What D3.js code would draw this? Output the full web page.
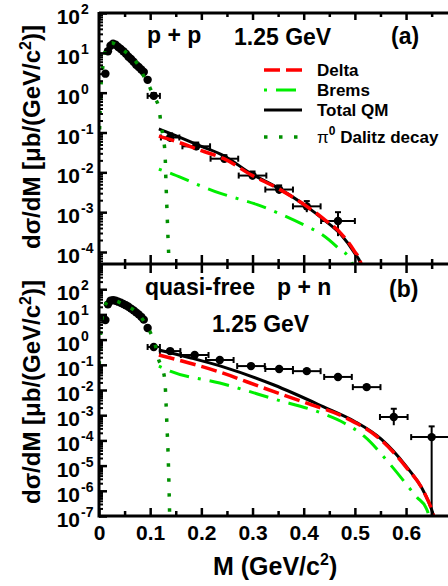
<!DOCTYPE html>
<html>
<head>
<meta charset="utf-8">
<script src="https://cdn.jsdelivr.net/npm/d3@7"></script>
<style>
  body { margin: 0; background: #fff; }
  text { font-family: "Liberation Sans", Arial, sans-serif; font-weight: bold; fill: #000; }
</style>
</head>
<body>
<div id="chart"></div>
<script>
// ---- data ----
// dense low-mass data points (both panels share the mass bins)
const denseMass = [0.0125, 0.0175, 0.0225, 0.0275, 0.0325, 0.0375, 0.0425, 0.0475, 0.0525, 0.0575, 0.0625, 0.0675, 0.0725, 0.0775, 0.0825, 0.0875, 0.095];
const denseA = [3.0, 11, 15, 17, 16, 14, 12.5, 11, 9.5, 8, 7, 6, 5, 4.4, 3.8, 3.3, 2.1];
const denseB = [6, 25, 35, 37, 35, 32, 29, 26, 23, 20, 17, 14.5, 12, 10, 8, 6.2, 2.9];

// data points with error bars
const errMassA = [0.107, 0.139, 0.19, 0.245, 0.3, 0.352, 0.406, 0.467];
const errValA  = [0.83, 0.075, 0.045, 0.022, 0.0083, 0.0037, 0.0014, 6e-4];
const errLoA   = [0.7, 0.058, 0.036, 0.018, 0.0066, 0.0029, 0.001, 2.5e-4];
const errHiA   = [0.98, 0.095, 0.056, 0.027, 0.0105, 0.0047, 0.0019, 1e-3];
const errDmA   = [0.012, 0.018, 0.027, 0.027, 0.027, 0.027, 0.027, 0.033];

const errMassB = [0.107, 0.139, 0.187, 0.236, 0.297, 0.352, 0.406, 0.467, 0.523, 0.576, 0.650];
const errValB  = [0.51, 0.35, 0.245, 0.155, 0.089, 0.068, 0.056, 0.033, 0.013, 8.5e-4, 1.35e-4];
const errLoB   = [0.45, 0.31, 0.22, 0.14, 0.08, 0.06, 0.05, 0.029, 0.011, 4e-4, 1e-9];
const errHiB   = [0.58, 0.4, 0.27, 0.17, 0.1, 0.077, 0.063, 0.037, 0.015, 1.8e-3, 3.6e-4];
const errDmB   = [0.012, 0.02, 0.027, 0.027, 0.027, 0.027, 0.027, 0.027, 0.027, 0.027, 0.04];

// model curves, panel (a) p+p
const qmMassA = [0.117, 0.15, 0.2, 0.244, 0.297, 0.352, 0.406, 0.439, 0.473, 0.498, 0.512, 0.518];
const totalA  = [0.123, 0.083, 0.045, 0.026, 0.0093, 0.0039, 0.00138, 6.5e-4, 2.7e-4, 1e-4, 4.7e-5, 3.2e-6];
const deltaA  = [0.081, 0.06, 0.035, 0.022, 0.0087, 0.0038, 0.0014, 6.8e-4, 2.9e-4, 1.1e-4, 5e-5, 3.2e-6];
const bremsMassA = [0.117, 0.145, 0.2, 0.236, 0.258, 0.309, 0.35, 0.4, 0.435, 0.465, 0.494, 0.502];
const bremsA  = [0.012, 0.0089, 0.0045, 0.003, 0.00245, 0.00155, 9.5e-4, 4.8e-4, 2.8e-4, 1.35e-4, 5.6e-5, 1e-5];

// model curves, panel (b) quasi-free p+n
const totalMassB = [0.117, 0.18, 0.244, 0.342, 0.439, 0.498, 0.551, 0.6, 0.635, 0.652, 0.658, 0.661];
const totalB     = [0.389, 0.186, 0.0813, 0.0158, 0.00214, 5.9e-4, 1.15e-4, 9.5e-6, 8.9e-7, 1.32e-7, 4.4e-8, 1e-9];
const deltaMassB = [0.117, 0.236, 0.322, 0.406, 0.479, 0.551, 0.6, 0.635, 0.652, 0.658, 0.661];
const deltaB     = [0.245, 0.0513, 0.012, 0.003, 8.5e-4, 1.05e-4, 8.7e-6, 8.9e-7, 1.32e-7, 4.4e-8, 1e-9];
const bremsMassB = [0.117, 0.139, 0.236, 0.342, 0.439, 0.479, 0.518, 0.57, 0.621, 0.639, 0.645, 0.648];
const bremsB     = [0.089, 0.056, 0.019, 0.0044, 0.00112, 4.9e-4, 1.48e-4, 1.05e-5, 5.6e-7, 2.1e-7, 8.3e-8, 1e-9];

// pi0 Dalitz decay
const dalitzMass = [0.0005, 0.002, 0.004, 0.007, 0.01, 0.015, 0.02, 0.025, 0.03, 0.04, 0.05, 0.06, 0.07, 0.08, 0.09, 0.1, 0.105, 0.11, 0.117, 0.121, 0.125, 0.129, 0.131, 0.133, 0.135, 0.137, 0.139];
const dalitzA = [0.05, 0.3, 1.5, 4, 8, 14, 17, 18, 17, 14, 11, 8.7, 6.5, 4.2, 2.2, 1.3, 0.93, 0.7, 0.42, 0.17, 0.08, 0.03, 5e-3, 1e-3, 2e-4, 5e-5, 1e-5];
const dalitzB = [0.1, 0.6, 3, 9, 17, 30, 36, 38, 36, 30, 24, 19, 14, 9, 4.5, 2, 1.2, 0.6, 0.15, 0.1, 0.06, 0.02, 3e-3, 3e-4, 3e-5, 1e-6, 1e-8];

const xTickVals = [0, 0.1, 0.2, 0.3, 0.4, 0.5, 0.6];
const xMinorVals = [0.05, 0.15, 0.25, 0.35, 0.45, 0.55, 0.65];
const decadesA = [2, 1, 0, -1, -2, -3, -4];
const decadesB = [2, 1, 0, -1, -2, -3, -4, -5, -6, -7];

const legendItems = ["Delta", "Brems", "Total QM", "Dalitz"];

// ---- setup ----
const width = 448, height = 586;
const svg = d3.select("#chart").append("svg")
    .attr("width", width)
    .attr("height", height);

const x = d3.scaleLinear().domain([0, 0.68]).range([99, 447]);
const yA = d3.scaleLog().domain([5e-5, 100]).range([264, 13]);
const yB = d3.scaleLog().domain([1e-7, 1e3]).range([516, 264]);

const styles = {
    total:  { stroke: "#000", width: 3, dash: null },
    delta:  { stroke: "#ff0000", width: 3.5, dash: "16,6" },
    brems:  { stroke: "#00ee00", width: 3, dash: "3,9,20,9" },
    dalitz: { stroke: "#009000", width: 3.5, dash: "3.5,11.5" }
};

const defs = svg.append("defs");
defs.append("clipPath").attr("id", "clipA").append("rect")
    .attr("x", 99).attr("y", 13).attr("width", 349).attr("height", 251);
defs.append("clipPath").attr("id", "clipB").append("rect")
    .attr("x", 99).attr("y", 264).attr("width", 349).attr("height", 252);

// ---- plotting helpers ----
function drawData(g, y, mass, vals) {
    g.selectAll(null)
        .data(d3.zip(mass, vals))
        .enter().append("circle")
        .attr("cx", d => x(d[0]))
        .attr("cy", d => y(d[1]))
        .attr("r", 4.2)
        .attr("fill", "#000");
}

function drawErrData(g, y, mass, vals, lo, hi, dm) {
    const pts = mass.map((m, i) => ({ m, v: vals[i], lo: lo[i], hi: hi[i], dm: dm[i] }));
    const e = g.selectAll(null).data(pts).enter().append("g")
        .attr("stroke", "#000").attr("stroke-width", 2);
    e.append("line")
        .attr("x1", d => x(d.m - d.dm)).attr("x2", d => x(d.m + d.dm))
        .attr("y1", d => y(d.v)).attr("y2", d => y(d.v));
    e.append("line")
        .attr("x1", d => x(d.m)).attr("x2", d => x(d.m))
        .attr("y1", d => y(d.lo)).attr("y2", d => y(d.hi));
    // end caps
    e.append("line")
        .attr("x1", d => x(d.m - d.dm)).attr("x2", d => x(d.m - d.dm))
        .attr("y1", d => y(d.v) - 3).attr("y2", d => y(d.v) + 3);
    e.append("line")
        .attr("x1", d => x(d.m + d.dm)).attr("x2", d => x(d.m + d.dm))
        .attr("y1", d => y(d.v) - 3).attr("y2", d => y(d.v) + 3);
    e.append("line")
        .attr("x1", d => x(d.m) - 3).attr("x2", d => x(d.m) + 3)
        .attr("y1", d => y(d.hi)).attr("y2", d => y(d.hi));
    e.append("circle")
        .attr("cx", d => x(d.m)).attr("cy", d => y(d.v))
        .attr("r", 4.2).attr("fill", "#000").attr("stroke", "none");
}

function drawCurve(g, y, mass, vals, st) {
    const line = d3.line()
        .x(d => x(d[0]))
        .y(d => y(d[1]))
        .curve(d3.curveMonotoneX);
    g.append("path")
        .datum(d3.zip(mass, vals))
        .attr("fill", "none")
        .attr("stroke", st.stroke)
        .attr("stroke-width", st.width)
        .attr("stroke-dasharray", st.dash)
        .attr("d", line);
}

function leftAxis(y, decades) {
    const [lo, hi] = y.domain();
    const minor = [];
    for (let e = Math.floor(Math.log10(lo)); e <= Math.ceil(Math.log10(hi)); e++) {
        for (let k = 2; k < 10; k++) {
            const v = k * Math.pow(10, e);
            if (v > lo && v < hi) minor.push(v);
        }
    }
    svg.append("g").attr("transform", "translate(99,0)")
        .call(d3.axisRight(y).tickValues(decades.map(e => Math.pow(10, e))).tickSize(8).tickFormat(""))
        .call(g => g.select(".domain").remove())
        .selectAll(".tick line").attr("stroke-width", 2.5);
    svg.append("g").attr("transform", "translate(99,0)")
        .call(d3.axisRight(y).tickValues(minor).tickSize(4).tickFormat(""))
        .call(g => g.select(".domain").remove())
        .selectAll(".tick line").attr("stroke-width", 2);

    const lab = svg.append("g");
    lab.selectAll(null).data(decades).enter().append("text")
        .attr("x", 80).attr("y", e => y(Math.pow(10, e)) + 11)
        .attr("text-anchor", "end").attr("font-size", 21)
        .text("10");
    lab.selectAll(null).data(decades).enter().append("text")
        .attr("x", 81).attr("y", e => y(Math.pow(10, e)) + 1)
        .attr("font-size", 14)
        .text(e => e);
}

function xTicks(y0, up, down, vals) {
    svg.append("g").attr("transform", `translate(0,${y0})`)
        .call(d3.axisBottom(x).tickValues(vals).tickSize(down).tickFormat(""))
        .call(g => g.select(".domain").remove())
        .selectAll(".tick line")
        .attr("y1", -up)
        .attr("stroke-width", 2.5);
}

// ---- panels ----
const gA = svg.append("g").attr("clip-path", "url(#clipA)");
drawData(gA, yA, denseMass, denseA);
drawErrData(gA, yA, errMassA, errValA, errLoA, errHiA, errDmA);
drawCurve(gA, yA, qmMassA, totalA, styles.total);
drawCurve(gA, yA, qmMassA, deltaA, styles.delta);
drawCurve(gA, yA, bremsMassA, bremsA, styles.brems);
drawCurve(gA, yA, dalitzMass, dalitzA, styles.dalitz);

const gB = svg.append("g").attr("clip-path", "url(#clipB)");
drawData(gB, yB, denseMass, denseB);
drawErrData(gB, yB, errMassB, errValB, errLoB, errHiB, errDmB);
drawCurve(gB, yB, totalMassB, totalB, styles.total);
drawCurve(gB, yB, deltaMassB, deltaB, styles.delta);
drawCurve(gB, yB, bremsMassB, bremsB, styles.brems);
drawCurve(gB, yB, dalitzMass, dalitzB, styles.dalitz);

// ---- axes & frame ----
leftAxis(yA, decadesA);
leftAxis(yB, decadesB);

xTicks(13, 0, 7, xTickVals);
xTicks(13, 0, 4, xMinorVals);
xTicks(264, 9, 9, xTickVals);
xTicks(264, 5, 5, xMinorVals);
xTicks(516, 8, 0, xTickVals);
xTicks(516, 5, 0, xMinorVals);

const frame = svg.append("g").attr("stroke", "#000").attr("stroke-width", 3);
frame.append("line").attr("x1", 99).attr("x2", 448).attr("y1", 13).attr("y2", 13);
frame.append("line").attr("x1", 99).attr("x2", 448).attr("y1", 264).attr("y2", 264);
frame.append("line").attr("x1", 99).attr("x2", 448).attr("y1", 516).attr("y2", 516);
frame.append("line").attr("x1", 99).attr("x2", 99).attr("y1", 12).attr("y2", 517.5);

// x tick labels
svg.append("g").attr("transform", "translate(0,516)")
    .call(d3.axisBottom(x).tickValues(xTickVals).tickSize(0).tickPadding(9).tickFormat(d3.format("")))
    .call(g => g.select(".domain").remove())
    .selectAll("text")
    .attr("font-size", 21)
    .style("font-family", '"Liberation Sans", Arial, sans-serif')
    .style("font-weight", "bold");

// ---- axis titles ----
function yTitle(cy) {
    const t = svg.append("text")
        .attr("transform", `translate(40,${cy}) rotate(-90)`)
        .attr("text-anchor", "middle")
        .attr("font-size", 24);
    t.append("tspan").text("dσ/dM [μb/(GeV/c");
    t.append("tspan").attr("dy", -9).attr("font-size", 16).text("2");
    t.append("tspan").attr("dy", 9).text(")]");
}
yTitle(137);
yTitle(392);

const xt = svg.append("text").attr("x", 213).attr("y", 575).attr("font-size", 25);
xt.append("tspan").text("M (GeV/c");
xt.append("tspan").attr("dy", -10).attr("font-size", 16).text("2");
xt.append("tspan").attr("dy", 10).text(")");

// ---- panel labels ----
svg.append("text").attr("x", 147).attr("y", 43).attr("font-size", 23).text("p + p");
svg.append("text").attr("x", 234).attr("y", 45).attr("font-size", 23).text("1.25 GeV");
svg.append("text").attr("x", 391).attr("y", 44).attr("font-size", 23).text("(a)");

svg.append("text").attr("x", 145).attr("y", 295).attr("font-size", 23).text("quasi-free");
svg.append("text").attr("x", 277).attr("y", 295).attr("font-size", 23).text("p + n");
svg.append("text").attr("x", 389).attr("y", 297).attr("font-size", 23).text("(b)");
svg.append("text").attr("x", 212).attr("y", 332).attr("font-size", 23).text("1.25 GeV");

// ---- legend ----
const legendStyles = [styles.delta, styles.brems, styles.total, styles.dalitz];
const legendY = [70, 90, 110, 137];
const leg = svg.append("g");
legendItems.forEach((name, i) => {
    const st = legendStyles[i];
    leg.append("line")
        .attr("x1", 264).attr("x2", 302)
        .attr("y1", legendY[i]).attr("y2", legendY[i])
        .attr("stroke", st.stroke).attr("stroke-width", st.width)
        .attr("stroke-dasharray", st.dash);
    const t = leg.append("text").attr("x", 317).attr("y", legendY[i] + 6).attr("font-size", 17);
    if (name === "Dalitz") {
        t.append("tspan").style("font-weight", "normal").text("π");
        t.append("tspan").attr("dy", -8).attr("font-size", 12).text("0");
        t.append("tspan").attr("dy", 8).text(" Dalitz decay");
    } else {
        t.text(name);
    }
});
</script>
</body>
</html>
